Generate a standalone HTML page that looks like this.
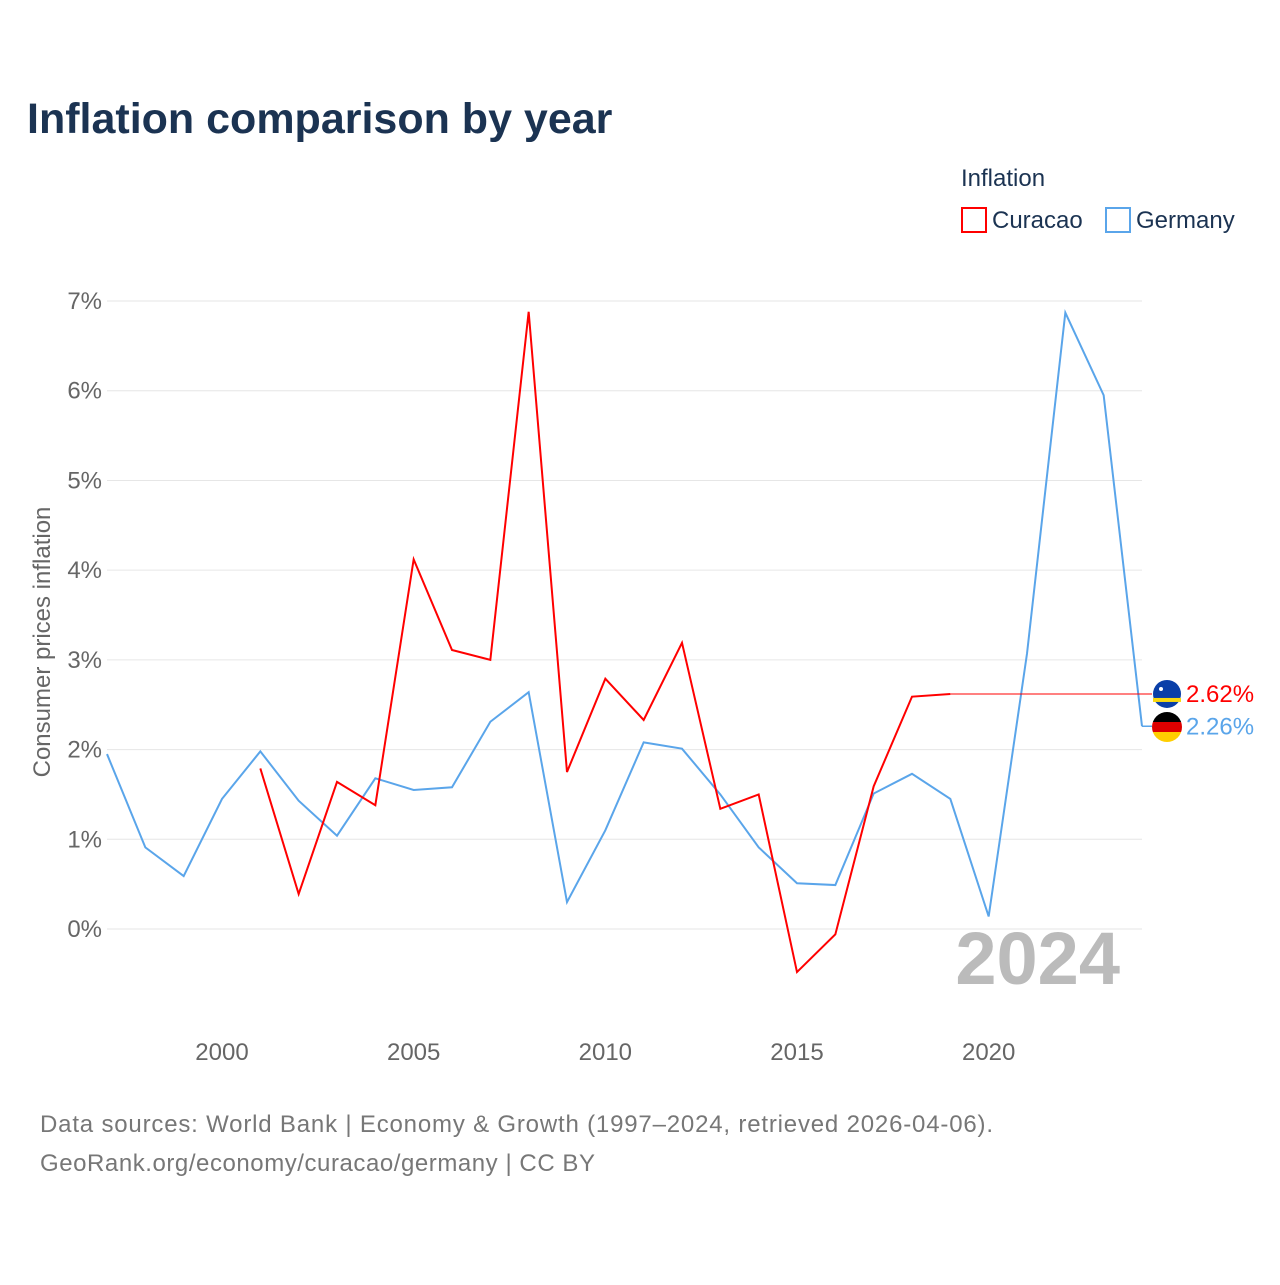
<!DOCTYPE html>
<html><head><meta charset="utf-8"><style>
body{margin:0;background:#fff;font-family:"Liberation Sans",sans-serif;}
svg text{font-family:"Liberation Sans",sans-serif;}
</style></head><body>
<svg id="chart" width="1280" height="1280" viewBox="0 0 1280 1280">
<defs><clipPath id="gclip"><circle cx="1167" cy="727" r="15"/></clipPath></defs>
<text x="27" y="133" font-size="43" font-weight="bold" fill="#1b3352">Inflation comparison by year</text>
<g>
<text x="961" y="186" font-size="24" fill="#1b3352">Inflation</text>
<g><rect x="962" y="208" width="24" height="24" fill="none" stroke="#ff0000" stroke-width="2"/><text x="992" y="228" font-size="24" fill="#1b3352">Curacao</text></g>
<g><rect x="1106" y="208" width="24" height="24" fill="none" stroke="#5aa5ea" stroke-width="2"/><text x="1136" y="228" font-size="24" fill="#1b3352">Germany</text></g>
</g>
<g id="grid"></g>
<g id="yticks"></g>
<g id="xticks"></g>
<text transform="translate(50,642) rotate(-90)" text-anchor="middle" font-size="24" fill="#666">Consumer prices inflation</text>
<text x="1120" y="984" text-anchor="end" font-size="74" font-weight="bold" fill="#bbb">2024</text>
<g id="series"></g>
<text x="40" y="1132" font-size="24" fill="#777" textLength="953">Data sources: World Bank | Economy &amp; Growth (1997–2024, retrieved 2026-04-06).</text>
<text x="40" y="1171" font-size="24" fill="#777" textLength="555">GeoRank.org/economy/curacao/germany | CC BY</text>
</svg>
<script>
const germanyYears=[1997,1998,1999,2000,2001,2002,2003,2004,2005,2006,2007,2008,2009,2010,2011,2012,2013,2014,2015,2016,2017,2018,2019,2020,2021,2022,2023,2024];
const germanyValues=[1.95,0.91,0.59,1.45,1.98,1.43,1.04,1.68,1.55,1.58,2.31,2.64,0.30,1.10,2.08,2.01,1.50,0.91,0.51,0.49,1.51,1.73,1.45,0.14,3.07,6.87,5.95,2.26];
const curacaoYears=[2001,2002,2003,2004,2005,2006,2007,2008,2009,2010,2011,2012,2013,2014,2015,2016,2017,2018,2019];
const curacaoValues=[1.79,0.39,1.64,1.38,4.12,3.11,3.00,6.88,1.75,2.79,2.33,3.19,1.34,1.50,-0.48,-0.06,1.59,2.59,2.62];
const yTicks=[0,1,2,3,4,5,6,7];
const xTicks=[2000,2005,2010,2015,2020];
const NS="http://www.w3.org/2000/svg";
const X=y=>107+(y-1997)*(1142-107)/27;
const Y=v=>929-v*89.71;
function mk(t,a,p){const e=document.createElementNS(NS,t);for(const k in a)e.setAttribute(k,a[k]);p.appendChild(e);return e;}
const grid=document.getElementById('grid'),yt=document.getElementById('yticks'),xt=document.getElementById('xticks'),ser=document.getElementById('series');
yTicks.forEach(v=>{
const l=mk('line',{x1:107,x2:1142,y1:Y(v),y2:Y(v),stroke:'#e6e6e6','stroke-width':1},grid);


const t=mk('text',{x:102,y:Y(v)+8,'text-anchor':'end','font-size':24,fill:'#666'},yt);
t.textContent=v+'%';


});
xTicks.forEach(y=>{
const t=mk('text',{x:X(y),y:1060,'text-anchor':'middle','font-size':24,fill:'#666'},xt);
t.textContent=y;


});
function line(years,vals,color,name){
const p=mk('polyline',{points:years.map((y,i)=>X(y)+','+Y(vals[i])).join(' '),fill:'none',stroke:color,'stroke-width':2},ser);


}
line(germanyYears,germanyValues,'#5aa5ea','germany-line');
line(curacaoYears,curacaoValues,'#ff0000','curacao-line');
const cv=curacaoValues[curacaoValues.length-1],gv=germanyValues[germanyValues.length-1];
const cl=mk('line',{x1:X(curacaoYears[curacaoYears.length-1]),x2:1152,y1:Y(cv),y2:Y(cv),stroke:'#ff0000','stroke-width':1},ser);


const gl=mk('line',{x1:X(2024),x2:1152,y1:Y(gv),y2:Y(gv),stroke:'#5aa5ea','stroke-width':1.5},ser);


const cf=mk('g',{},ser);


mk('circle',{cx:1167,cy:Y(cv),r:14,fill:'#0a3fa8'},cf);
mk('rect',{x:1153,y:Y(cv)+4,width:28,height:4,fill:'#f9d90f'},cf);
mk('circle',{cx:1161,cy:Y(cv)-5,r:2,fill:'#fff'},cf);
const gf=mk('g',{'clip-path':'url(#gclip)'},ser);


mk('rect',{x:1152,y:712,width:30,height:10,fill:'#000'},gf);
mk('rect',{x:1152,y:722,width:30,height:10,fill:'#dd0000'},gf);
mk('rect',{x:1152,y:732,width:30,height:10,fill:'#ffce00'},gf);
const ct=mk('text',{x:1186,y:Y(cv)+8,'font-size':24,fill:'#ff0000'},ser);
ct.textContent=cv.toFixed(2)+'%';


const gt=mk('text',{x:1186,y:Y(gv)+8,'font-size':24,fill:'#5aa5ea'},ser);
gt.textContent=gv.toFixed(2)+'%';


</script>
</body></html>
